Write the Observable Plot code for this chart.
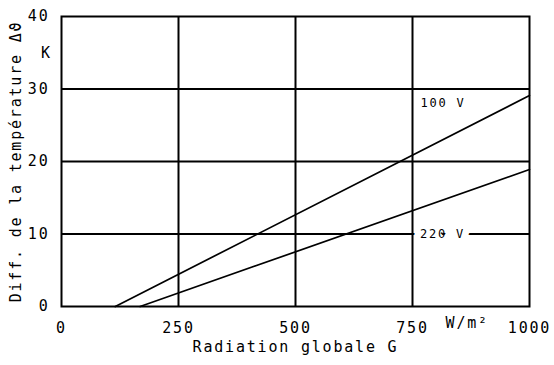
<!DOCTYPE html>
<html><head><meta charset="utf-8">
<script src="https://cdn.jsdelivr.net/npm/d3@7"></script>
<script src="https://cdn.jsdelivr.net/npm/@observablehq/plot@0.6"></script>
<style>body{margin:0;background:#fff}</style>
</head><body><div id="chart"></div>
<script>
const xTicks = [0, 250, 500, 750, 1000];
const yTicks = [0, 10, 20, 30, 40];
const gridX = [250, 500, 750];
const gridY = [10, 20, 30];
const seriesNames = ["100 V", "220 V"];
const radiation100 = [115, 1000];
const delta100 = [0, 29.1];
const radiation220 = [168, 1000];
const delta220 = [0, 18.9];

const rows = [
  ...radiation100.map((g, i) => ({series: seriesNames[0], G: g, dT: delta100[i]})),
  ...radiation220.map((g, i) => ({series: seriesNames[1], G: g, dT: delta220[i]}))
];

const font = {fontFamily: "DejaVu Sans Mono", fontSize: 15, letterSpacing: "1.8px"};

const chart = Plot.plot({
  width: 554, height: 365,
  marginLeft: 61, marginRight: 25, marginTop: 16, marginBottom: 59,
  x: {domain: [0, 1000]},
  y: {domain: [0, 40]},
  style: {background: "#fff", color: "#000", ...font},
  marks: [
    Plot.ruleY(gridY, {stroke: "#000", strokeWidth: 2, strokeOpacity: 1}),
    Plot.text([seriesNames[1]], {x: 766, y: 10, text: d => d, textAnchor: "start", fill: "#000", fontSize: 12, letterSpacing: "1.5px", stroke: "#fff", strokeWidth: 14, paintOrder: "stroke"}),
    Plot.ruleX(gridX, {stroke: "#000", strokeWidth: 2, strokeOpacity: 1}),
    Plot.line(rows, {x: "G", y: "dT", z: "series", stroke: "#000", strokeWidth: 1.7}),
    Plot.text([seriesNames[0]], {x: 767, y: 28.1, text: d => d, textAnchor: "start", fill: "#000", fontSize: 12, letterSpacing: "1.5px"}),
    Plot.frame({stroke: "#000", strokeWidth: 2}),
    Plot.axisX(xTicks, {tickSize: 0, tickPadding: 16, label: null, fill: "#000", fontSize: 15, tickFormat: d3.format("d")}),
    Plot.axisY(yTicks, {tickSize: 0, tickPadding: 12, label: null, fill: "#000", fontSize: 15}),
    Plot.text(["W/m²"], {x: 867, y: 0, dy: 17, text: d => d, fill: "#000", fontSize: 15}),
    Plot.text(["Radiation globale G"], {frameAnchor: "bottom", dy: 45, text: d => d, fill: "#000", fontSize: 15, letterSpacing: "2.6px"}),
    Plot.text(["K"], {x: 0, y: 35, dx: -15, text: d => d, fill: "#000", fontSize: 15}),
    Plot.text(["Diff. de la température Δϑ"], {frameAnchor: "left", dx: -45, rotate: -90, textAnchor: "middle", text: d => d, fill: "#000", fontSize: 15, letterSpacing: "2.3px"})
  ]
});
document.getElementById("chart").appendChild(chart);
</script></body></html>
